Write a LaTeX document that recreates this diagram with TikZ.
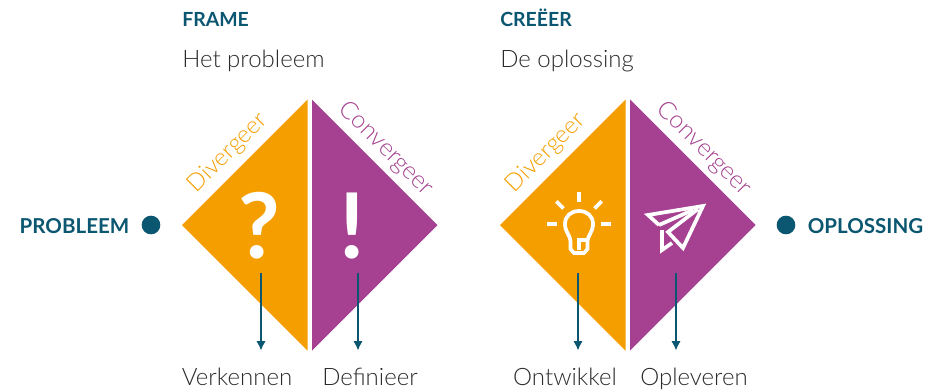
\documentclass[tikz,border=0pt]{standalone}
\usepackage{fontspec}
\setmainfont{Lato Light}[BoldFont=Lato Bold]
\usepackage{xcolor}
\definecolor{frameblue}{HTML}{0B5670}
\definecolor{divorange}{HTML}{F59E00}
\definecolor{conpurple}{HTML}{A54190}
\definecolor{bodygrey}{HTML}{2B2B2B}
\tikzset{
    kop/.style={anchor=base west, font=\fontsize{14.6}{18}\selectfont\bfseries, text=frameblue, inner sep=0pt},
    sub/.style={anchor=base west, font=\fontsize{18}{22}\selectfont, text=bodygrey, inner sep=0pt},
    eind/.style={anchor=base, font=\fontsize{15.4}{18}\selectfont\bfseries, text=frameblue, inner sep=0pt},
    stap/.style={anchor=base, font=\fontsize{18}{22}\selectfont, text=bodygrey, inner sep=0pt},
    dot/.style={circle, fill=frameblue, minimum size=14pt, inner sep=0pt},
    pijl/.style={draw=frameblue, line width=1.2pt, -{Latex[length=7pt,width=7pt]}},
    diverg/.style={rotate=45, font=\fontsize{18}{22}\selectfont, text=divorange, inner sep=0pt},
    converg/.style={rotate=-45, font=\fontsize{18.4}{22}\selectfont, text=conpurple, inner sep=0pt},
    teken/.style={text=white, font=\fontsize{68}{68}\selectfont\bfseries, inner sep=0pt},
    icoon/.style={draw=white, line width=2.8pt, line join=miter},
}
\usetikzlibrary{arrows.meta}
\begin{document}
\begin{tikzpicture}[x=0.75pt, y=-0.75pt]
    \useasboundingbox (0,0) rectangle (942,390);
    % diamonds
    \fill[divorange] (182,225) -- (307.5,99.5) -- (307.5,350.5) -- cycle;
    \fill[conpurple] (312,99.5) -- (437.5,225) -- (312,350.5) -- cycle;
    \fill[divorange] (500,225) -- (625.5,99.5) -- (625.5,350.5) -- cycle;
    \fill[conpurple] (630,99.5) -- (755.5,225) -- (630,350.5) -- cycle;
    % headers
    \node[kop] (frame) at (182,26.5) {FRAME};
    \node[sub] (probleem) at (182,67) {Het probleem};
    \node[kop] (creeer) at (500,26.5) {CREËER};
    \node[sub] (oplossing) at (500,67) {De oplossing};
    % outer ends
    \node[eind] (start) at (74.5,233.5) {PROBLEEM};
    \node[dot] (startdot) at (151,225) {};
    \node[dot] (einddot) at (786,225) {};
    \node[eind] (eind) at (865.5,233.5) {OPLOSSING};
    % side labels
    \node[diverg] (div1) at (228,153) {Divergeer};
    \node[converg] (con1) at (386,149) {Convergeer};
    \node[diverg] (div2) at (546,153) {Divergeer};
    \node[converg] (con2) at (704,149) {Convergeer};
    % signs
    \node[teken] (vraag) at (259,226) {?};
    \node[teken] (uitroep) at (352,226) {!};
    % lamp
    \foreach \hoek in {0,45,90,135,180}
        \draw[icoon] (579,224) ++(-\hoek:22) -- ++(-\hoek:10);
    \draw[icoon] (574,253) -- (584,253) -- (587.5,249) -- (587.5,241)
        .. controls (587.5,236) and (593,232) .. (593,224)
        .. controls (593,216) and (587,211) .. (579,211)
        .. controls (571,211) and (565,216) .. (565,224)
        .. controls (565,232) and (570.5,236) .. (570.5,241)
        -- (570.5,249) -- cycle;
    \draw[icoon] (587,240) -- (579,240) -- (579,250);
    % plane
    \draw[icoon] (659,225) -- (648,215) -- (703,206) -- (683,248) -- (668,232) -- (698,209);
    \draw[icoon] (659,225) -- (693,210);
    \draw[icoon] (662,230) -- (662,250) -- (672,243);
    % arrows
    \coordinate (pijl1a) at (261,272.7);
    \coordinate (pijl1b) at (261,350.5);
    \coordinate (pijl2a) at (358,272.7);
    \coordinate (pijl2b) at (358,350.5);
    \coordinate (pijl3a) at (578,272.7);
    \coordinate (pijl3b) at (578,350.5);
    \coordinate (pijl4a) at (676,272.7);
    \coordinate (pijl4b) at (676,350.5);
    \draw[pijl] (pijl1a) -- (pijl1b);
    \draw[pijl] (pijl2a) -- (pijl2b);
    \draw[pijl] (pijl3a) -- (pijl3b);
    \draw[pijl] (pijl4a) -- (pijl4b);
    \node[stap] (verkennen) at (237,385) {Verkennen};
    \node[stap] (definieer) at (370,385) {Definieer};
    \node[stap] (ontwikkel) at (565,385) {Ontwikkel};
    \node[stap] (opleveren) at (694,385) {Opleveren};
\end{tikzpicture}
\end{document}
